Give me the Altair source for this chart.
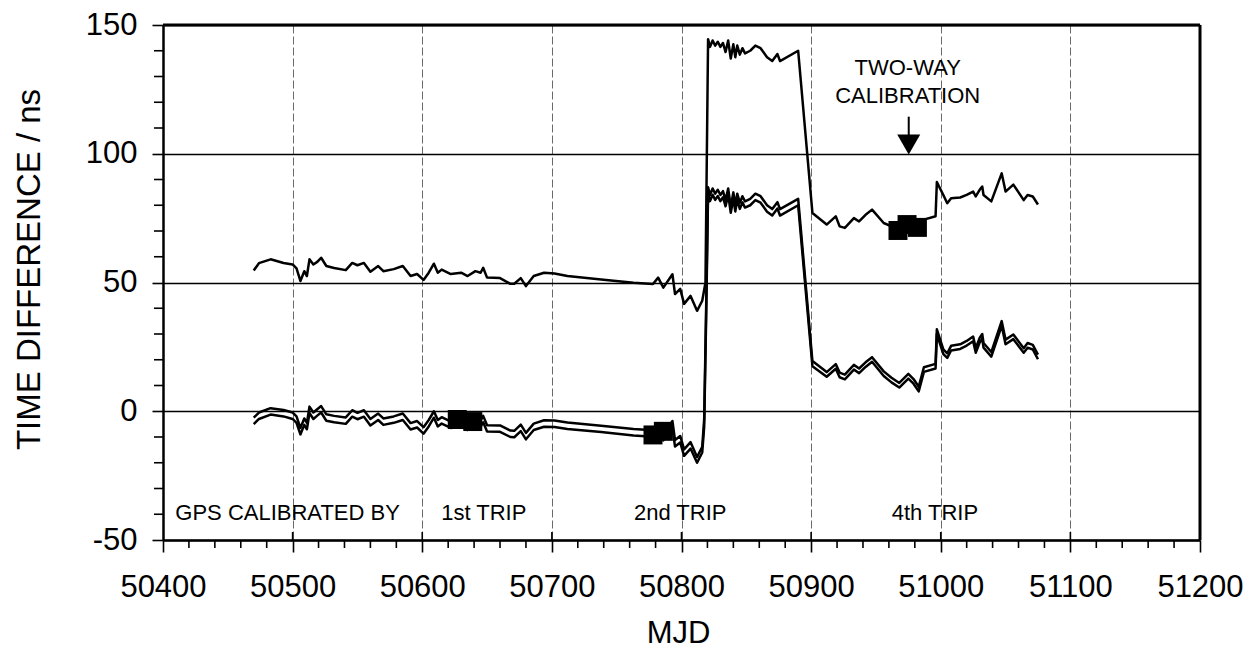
import altair as alt
import pandas as pd

FONT = "Liberation Sans"

# ---------------- data ----------------
series_a = [
    (50470, 54.7), (50474, 57.5), (50483, 59.0), (50493, 57.6), (50500, 57.0), (50503, 55.5),
    (50506, 50.6), (50509, 54.4), (50511, 52.5), (50513, 59.0), (50516, 57.0), (50519, 58.0),
    (50522, 59.6), (50526, 56.4), (50532, 55.6), (50541, 54.8), (50546, 57.6), (50550, 56.7),
    (50555, 57.6), (50560, 54.2), (50566, 56.4), (50570, 54.4), (50578, 55.2), (50585, 56.4),
    (50591, 52.5), (50596, 53.3), (50601, 51.0), (50605, 53.8), (50609, 57.3), (50612, 53.8),
    (50615, 55.0), (50622, 53.3), (50630, 53.8), (50635, 52.5), (50641, 54.4), (50645, 53.8),
    (50647, 55.7), (50650, 51.9), (50660, 51.7), (50668, 49.5), (50671, 49.5), (50676, 51.7),
    (50680, 48.6), (50686, 52.5), (50694, 53.8), (50702, 53.5), (50712, 52.5), (50738, 51.2),
    (50763, 49.9), (50778, 49.4), (50782, 51.9), (50786, 48.0), (50793, 53.2), (50795, 45.5),
    (50799, 47.5), (50802, 41.7), (50807, 44.8), (50812, 39.0), (50816, 42.9), (50818.5, 50.0),
    (50820.5, 144.5), (50822, 141.5), (50824, 144.0), (50826, 142.0), (50828, 143.5), (50830, 141.5),
    (50832, 143.0), (50834, 139.5), (50836, 144.0), (50838, 137.0), (50840, 142.5), (50841.5, 137.5),
    (50843, 142.0), (50845, 138.5), (50847, 141.0), (50849, 139.0), (50853, 140.0), (50857, 142.0),
    (50861, 141.0), (50866, 137.5), (50870, 136.0), (50874, 138.7), (50876, 136.0), (50890, 140.0),
    (50901, 77.0), (50912, 72.5), (50919, 75.7), (50922, 71.8), (50926, 71.2), (50933, 75.0),
    (50937, 73.7), (50942, 76.3), (50947, 78.3), (50956, 73.1), (50962, 71.8), (50968, 70.5),
    (50975, 72.0), (50984, 73.5), (50987, 74.4), (50996, 75.7), (50997, 89.0), (51002, 84.0),
    (51005, 80.8), (51008, 82.7), (51015, 83.0), (51020, 84.0), (51025, 85.3), (51027, 83.4),
    (51030, 86.0), (51032, 87.3), (51033, 84.0), (51039, 81.5), (51047, 92.4), (51050, 85.3),
    (51056, 88.0), (51064, 82.0), (51067, 84.0), (51071, 83.4), (51075, 80.3),
]

series_b = [
    (50470, -2.5), (50474, -0.5), (50483, 1.2), (50493, 0.5), (50500, -0.5), (50503, -2.0),
    (50506, -6.5), (50509, -2.8), (50511, -4.5), (50513, 1.8), (50516, -0.5), (50519, 0.8),
    (50522, 2.0), (50526, -1.2), (50532, -1.8), (50541, -2.4), (50546, 0.4), (50550, -0.6),
    (50555, 0.4), (50560, -3.0), (50566, -0.9), (50570, -2.8), (50578, -2.0), (50585, -0.9),
    (50591, -4.6), (50596, -3.8), (50601, -6.2), (50605, -3.4), (50609, 0.0), (50612, -3.4),
    (50615, -2.3), (50622, -4.0), (50630, -3.5), (50635, -4.8), (50641, -3.0), (50645, -3.5),
    (50647, -1.8), (50650, -5.4), (50660, -5.5), (50668, -7.5), (50671, -7.6), (50676, -5.2),
    (50680, -8.4), (50686, -4.8), (50694, -3.5), (50702, -3.6), (50712, -4.4), (50738, -5.6),
    (50763, -6.9), (50778, -7.4), (50782, -5.0), (50786, -8.8), (50793, -3.8), (50795, -11.2),
    (50799, -9.6), (50802, -14.8), (50807, -12.0), (50812, -17.8), (50816, -13.8), (50817.5, -3.0),
    (50819, 40.0), (50820.5, 87.0), (50822, 84.0), (50824, 86.5), (50826, 84.5), (50828, 86.0),
    (50830, 84.0), (50832, 85.5), (50834, 82.0), (50836, 86.5), (50838, 79.5), (50840, 85.0),
    (50841.5, 80.0), (50843, 84.5), (50845, 81.0), (50847, 83.5), (50849, 81.5), (50853, 82.5),
    (50857, 84.5), (50861, 83.5), (50866, 80.0), (50870, 78.5), (50874, 81.2), (50876, 78.5),
    (50890, 82.5), (50901, 19.5), (50912, 15.2), (50919, 18.3), (50922, 15.0), (50926, 14.2),
    (50933, 18.0), (50937, 16.6), (50942, 19.0), (50947, 21.0), (50956, 15.5), (50962, 13.0),
    (50968, 11.0), (50975, 14.5), (50979, 12.5), (50983, 9.5), (50987, 17.1), (50996, 18.4),
    (50997, 31.8), (51002, 24.0), (51005, 22.5), (51008, 25.4), (51015, 26.0), (51020, 27.3),
    (51025, 29.0), (51027, 24.5), (51030, 28.5), (51032, 30.0), (51033, 26.5), (51039, 23.0),
    (51047, 35.0), (51050, 27.8), (51056, 29.8), (51064, 24.5), (51067, 26.5), (51071, 25.8),
    (51075, 22.0),
]

series_c = [
    (50470, -5.0), (50474, -3.0), (50483, -1.3), (50493, -2.0), (50500, -3.0), (50503, -4.5),
    (50506, -9.0), (50509, -5.3), (50511, -7.0), (50513, -0.7), (50516, -3.0), (50519, -1.7),
    (50522, -0.5), (50526, -3.7), (50532, -4.3), (50541, -4.9), (50546, -2.1), (50550, -3.1),
    (50555, -2.1), (50560, -5.5), (50566, -3.4), (50570, -5.3), (50578, -4.5), (50585, -3.4),
    (50591, -7.1), (50596, -6.3), (50601, -8.7), (50605, -5.9), (50609, -2.5), (50612, -5.9),
    (50615, -4.8), (50622, -6.5), (50630, -6.0), (50635, -7.3), (50641, -5.5), (50645, -6.0),
    (50647, -4.3), (50650, -7.9), (50660, -8.0), (50668, -10.0), (50671, -10.1), (50676, -7.7),
    (50680, -10.9), (50686, -7.3), (50694, -6.0), (50702, -6.1), (50712, -6.9), (50738, -8.1),
    (50763, -9.4), (50778, -9.9), (50782, -7.5), (50786, -11.3), (50793, -6.3), (50795, -13.7),
    (50799, -12.1), (50802, -17.3), (50807, -14.5), (50812, -20.0), (50816, -16.0), (50817.5, -6.0),
    (50819, 36.0), (50820.5, 84.6), (50822, 81.6), (50824, 84.1), (50826, 82.1), (50828, 83.6),
    (50830, 81.6), (50832, 83.1), (50834, 79.6), (50836, 84.1), (50838, 77.1), (50840, 82.6),
    (50841.5, 77.6), (50843, 82.1), (50845, 78.6), (50847, 81.1), (50849, 79.1), (50853, 80.0),
    (50857, 82.0), (50861, 81.0), (50866, 77.5), (50870, 76.0), (50874, 78.7), (50876, 76.0),
    (50890, 80.0), (50901, 17.5), (50912, 13.4), (50919, 16.5), (50922, 13.2), (50926, 12.4),
    (50933, 16.2), (50937, 14.8), (50942, 17.2), (50947, 19.2), (50956, 13.7), (50962, 11.2),
    (50968, 9.2), (50975, 12.7), (50979, 10.7), (50983, 7.7), (50987, 15.3), (50996, 16.6),
    (50997, 30.0), (51002, 22.2), (51005, 20.7), (51008, 23.6), (51015, 24.2), (51020, 25.5),
    (51025, 27.2), (51027, 22.7), (51030, 26.7), (51032, 28.2), (51033, 24.7), (51039, 21.2),
    (51047, 33.2), (51050, 26.0), (51056, 28.0), (51064, 22.7), (51067, 24.7), (51071, 24.0),
    (51075, 20.2),
]

# calibration points (filled squares)
square_mjd = [50627, 50639, 50778, 50786, 50967, 50974, 50982]
square_val = [-3.2, -4.0, -9.2, -7.8, 70.2, 72.5, 71.4]

# annotation texts
left_text = ["GPS CALIBRATED BY"]
left_text_mjd = [50409.5]
left_text_val = [-42.3]
center_text = ["1st TRIP", "2nd TRIP", "4th TRIP", "TWO-WAY", "CALIBRATION"]
center_text_mjd = [50647.5, 50799, 50995.5, 50974.5, 50974.5]
center_text_val = [-42.3, -42.3, -42.3, 130.6, 119.6]

# arrow pointing at the two-way calibration
arrow_mjd = [50975.3]
arrow_top = [114.4]
arrow_bottom = [106.0]
arrow_head = [103.6]

# axis ticks
x_major = [50400, 50500, 50600, 50700, 50800, 50900, 51000, 51100, 51200]
x_inner = [50500, 50600, 50700, 50800, 50900, 51000, 51100]
x_minor = [v for v in range(50420, 51200, 20) if v % 100 != 0]
y_major = [-50, 0, 50, 100, 150]
y_minor = [v for v in range(-40, 150, 10) if v % 50 != 0]

# ---------------- build tables ----------------
rows = []
for name, pts in (("A", series_a), ("B", series_b), ("C", series_c)):
    for m, v in pts:
        rows.append({"series": name, "mjd": m, "v": v})
lines_df = pd.DataFrame(rows)

PLOT_H = 515

x_scale = alt.Scale(domain=[50400, 51200], nice=False, zero=False)
y_scale = alt.Scale(domain=[-50, 150], nice=False, zero=False)

x_axis = alt.Axis(
    values=x_major, labelExpr="'' + datum.value", title="MJD",
    labelFlush=False, labelOverlap=False, labelBound=False,
    grid=True, gridDash=[8, 3], gridColor="#6a6a6a", gridWidth=1,
    tickSize=12, tickWidth=1.6, tickColor="black",
    domainColor="black", domainWidth=2.5,
    labelFont=FONT, labelFontSize=31, labelColor="black", labelPadding=20,
    titleFont=FONT, titleFontSize=31, titleFontWeight="normal", titleColor="black",
    titleX=515, titleY=102, titleAlign="center", titleBaseline="alphabetic",
)
y_axis = alt.Axis(
    values=y_major, labelExpr="'' + datum.value", title="TIME DIFFERENCE / ns",
    labelFlush=False, labelOverlap=False, labelBound=False,
    grid=True, gridColor="black", gridWidth=1.4,
    tickSize=11, tickWidth=1.6, tickColor="black",
    domainColor="black", domainWidth=2.5,
    labelFont=FONT, labelFontSize=31, labelColor="black", labelPadding=15,
    titleFont=FONT, titleFontSize=33, titleFontWeight="normal", titleColor="black",
    titleX=-124, titleY=244, titleAngle=270, titleAlign="center", titleBaseline="alphabetic",
)

lines = alt.Chart(lines_df).mark_line(color="black", strokeWidth=2.5, strokeJoin="round").encode(
    x=alt.X("mjd:Q", scale=x_scale, axis=x_axis),
    y=alt.Y("v:Q", scale=y_scale, axis=y_axis),
    detail="series:N",
)

squares = alt.Chart(pd.DataFrame({"mjd": square_mjd, "v": square_val})).mark_square(
    size=360, color="black", opacity=1, filled=True
).encode(x="mjd:Q", y="v:Q")

txt_left = alt.Chart(pd.DataFrame({"mjd": left_text_mjd, "v": left_text_val, "t": left_text})).mark_text(
    font=FONT, fontSize=22, align="left", baseline="alphabetic", color="black"
).encode(x="mjd:Q", y="v:Q", text="t:N")

txt_center = alt.Chart(pd.DataFrame({"mjd": center_text_mjd, "v": center_text_val, "t": center_text})).mark_text(
    font=FONT, fontSize=22, align="center", baseline="alphabetic", color="black"
).encode(x="mjd:Q", y="v:Q", text="t:N")

arrow_df = pd.DataFrame({"mjd": arrow_mjd, "v": arrow_top, "v2": arrow_bottom, "vh": arrow_head})
shaft = alt.Chart(arrow_df).mark_rule(color="black", strokeWidth=2).encode(
    x="mjd:Q", y="v:Q", y2="v2:Q"
)
head = alt.Chart(arrow_df).mark_point(
    shape="M-1,-0.87L1,-0.87L0,0.87Z", size=530, filled=True, color="black", opacity=1
).encode(x="mjd:Q", y="vh:Q")

frame_df = pd.DataFrame({"mjd": [50400, 51200], "mjd2": [51200, 51200], "v": [150, -50], "v2": [150, 150]})
frame = alt.Chart(frame_df).mark_rule(color="black", strokeWidth=3).encode(
    x="mjd:Q", x2="mjd2:Q", y="v:Q", y2="v2:Q"
)

xminor = alt.Chart(pd.DataFrame({"mjd": x_minor})).mark_rule(color="black", strokeWidth=1.6).encode(
    x="mjd:Q", y=alt.value(PLOT_H), y2=alt.value(PLOT_H + 8)
)
xinner = alt.Chart(pd.DataFrame({"mjd": x_inner})).mark_rule(color="black", strokeWidth=1.6).encode(
    x="mjd:Q", y=alt.value(PLOT_H - 8), y2=alt.value(PLOT_H)
)
yminor = alt.Chart(pd.DataFrame({"v": y_minor})).mark_rule(color="black", strokeWidth=1.6).encode(
    y="v:Q", x=alt.value(-9), x2=alt.value(0)
)

chart = alt.layer(
    lines, squares, txt_left, txt_center, shaft, head, frame, xminor, xinner, yminor
).properties(
    width=1037, height=PLOT_H,
    autosize=alt.AutoSizeParams(type="none"),
    padding={"left": 155, "top": 17, "right": 48, "bottom": 110},
    background="white",
).configure_view(stroke=None)

chart.save("out.html", embed_options={"renderer": "svg", "actions": False})
